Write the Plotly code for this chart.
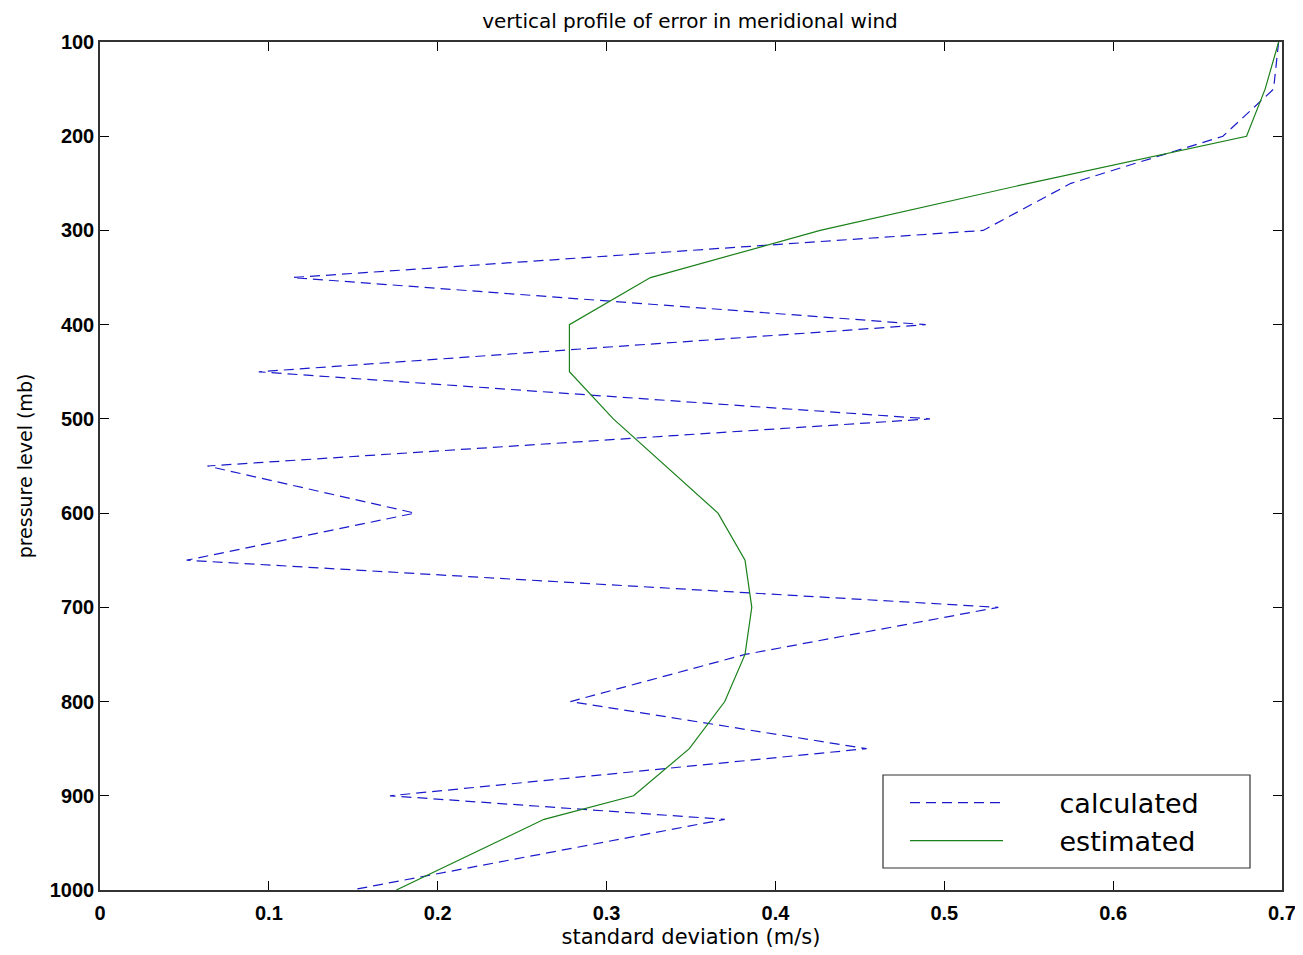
import plotly.graph_objects as go

pressure = [100, 150, 200, 250, 300, 350, 400, 450, 500, 550, 600, 650, 700, 750, 800, 850, 900, 925, 1000]
calculated = [0.698, 0.695, 0.665, 0.575, 0.523, 0.114, 0.489, 0.094, 0.4915, 0.0636, 0.1865, 0.0513,
              0.532, 0.382, 0.2786, 0.454, 0.1717, 0.370, 0.149]
estimated = [0.698, 0.690, 0.679, 0.550, 0.4265, 0.326, 0.278, 0.278, 0.304, 0.335, 0.366, 0.382,
             0.386, 0.382, 0.370, 0.349, 0.316, 0.263, 0.1755]
x_ticks = [0, 0.1, 0.2, 0.3, 0.4, 0.5, 0.6, 0.7]
y_ticks = [100, 200, 300, 400, 500, 600, 700, 800, 900, 1000]

FONT = "DejaVu Sans"
TICKFONT = "Liberation Sans"
PAD = "\u00a0" * 6

fig = go.Figure()
fig.add_trace(go.Scatter(x=calculated, y=pressure, mode="lines", name=PAD + "calculated",
                         line=dict(color="#1a1acc", width=1.2, dash="10px,6px")))
fig.add_trace(go.Scatter(x=estimated, y=pressure, mode="lines", name=PAD + "estimated",
                         line=dict(color="#1a801a", width=1.2)))

# page offset of 8px (body margin) compensated in size/margins
W, H = 1295, 947
fig.update_layout(
    width=W, height=H,
    margin=dict(l=92, r=21, t=34, b=65, autoexpand=False),
    paper_bgcolor="white", plot_bgcolor="white",
    title=dict(text="vertical profile of error in meridional wind", x=682 / W, xanchor="center",
               y=1 - 13 / H, yanchor="middle", yref="container",
               font=dict(family=FONT, size=20, color="black")),
    showlegend=True,
    legend=dict(x=(905 - 100) / 1182, y=(890 - 822) / 848, xanchor="left", yanchor="middle",
                bgcolor="rgba(0,0,0,0)", borderwidth=0,
                font=dict(family=FONT, size=27, color="black"),
                itemwidth=93, tracegroupgap=0),
    font=dict(family=FONT, color="black"),
    shapes=[dict(type="rect", xref="paper", yref="paper",
                 x0=(883 - 100) / 1182, x1=(1250 - 100) / 1182,
                 y0=(890 - 868) / 848, y1=(890 - 775) / 848,
                 line=dict(color="#333333", width=1.2), fillcolor="white", layer="below")],
)
fig.update_xaxes(range=[0, 0.7], tickvals=x_ticks, ticktext=[f"{v:g}" for v in x_ticks],
                 ticks="inside", ticklen=9, tickcolor="black", mirror="ticks", automargin=False,
                 showline=True, linecolor="#333333", linewidth=1.5, showgrid=False, zeroline=False,
                 ticklabelstandoff=4,
                 tickfont=dict(family=TICKFONT, size=20, color="black", weight="bold"),
                 title=dict(text="standard deviation (m/s)", standoff=7,
                            font=dict(family=FONT, size=21, color="black")))
fig.update_yaxes(range=[1000, 100], tickvals=y_ticks, ticks="inside", ticklen=9, tickcolor="black",
                 mirror="ticks", showline=True, linecolor="#333333", linewidth=1.5, automargin=False,
                 showgrid=False, zeroline=False,
                 tickfont=dict(family=TICKFONT, size=20, color="black", weight="bold"),
                 title=dict(text="pressure level (mb)", standoff=12,
                            font=dict(family=FONT, size=19, color="black")))

fig.write_html("out.html")
